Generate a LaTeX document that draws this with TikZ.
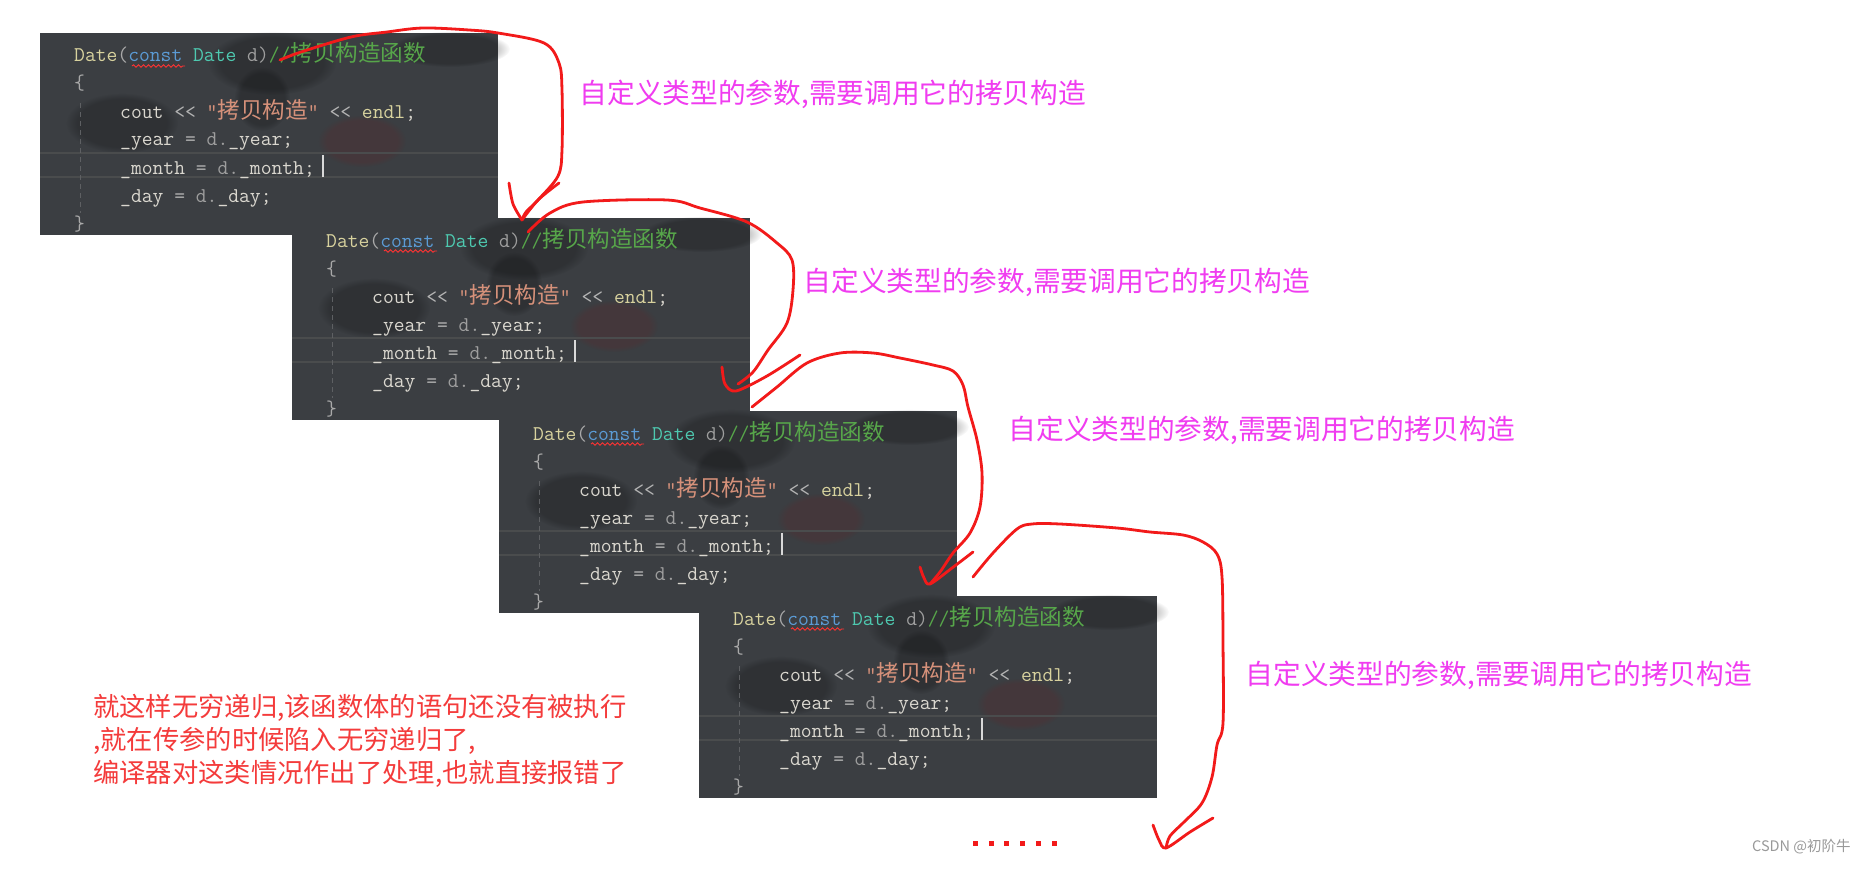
\documentclass[tikz,border=0pt]{standalone}
\usepackage{fontspec}
\newfontfamily\cjk{Noto Sans CJK SC}
\newfontfamily\cjkc{Noto Sans CJK SC}[Scale=1.076]
\usetikzlibrary{decorations.pathmorphing,fadings}
\definecolor{blkbg}{HTML}{3B3E42}
\definecolor{cfn}{HTML}{D8D29E}
\definecolor{cpun}{HTML}{A9A9A9}
\definecolor{ckw}{HTML}{5B9BD5}
\definecolor{cty}{HTML}{4EC9B0}
\definecolor{cpar}{HTML}{9E9E9E}
\definecolor{ccm}{HTML}{57A64A}
\definecolor{cstr}{HTML}{D6917A}
\definecolor{cid}{HTML}{DAD7CF}
\definecolor{cop}{HTML}{B4B4B4}
\definecolor{penc}{HTML}{F21A1A}
\definecolor{magc}{HTML}{F03CF0}
\definecolor{redtxt}{HTML}{F43B3B}
\definecolor{hlc}{HTML}{4A4C4D}
\definecolor{guidec}{HTML}{5E6063}
\newcommand\codeblk[3]{%
  \node[blk] (#1) at (#2,#3) {};
  \begin{scope}[shift={(#1.north west)}]
    \fill[blob] (232,30) ellipse [x radius=64, y radius=32];
    \fill[blob] (222,66) ellipse [x radius=28, y radius=32];
    \fill[blob] (82,90) ellipse [x radius=56, y radius=30];
    \fill[blob] (410,16) ellipse [x radius=60, y radius=18];
    \fill[redglow] (322,108) ellipse [x radius=44, y radius=26];
    \draw[hlline] (0,120) -- (458,120) (0,144) -- (458,144);
    \draw[guide] (40,70) -- (40,180);
    \draw[cursorl] (283,122) -- (283,144);
    \draw[wavy] (92,33) -- (145,33);
    \node[codeln] (#1-1) at (34,29) {\textcolor{cfn}{Date}\textcolor{cpun}{(}\textcolor{ckw}{const} \textcolor{cty}{Date} \textcolor{cpar}{d)}\textcolor{ccm}{//{\cjkc 拷贝构造函数}}};
    \node[codeln] (#1-2) at (34,57) {\textcolor{cpun}{\{}};
    \node[codeln] (#1-3) at (80,85) {\textcolor{cid}{cout} \textcolor{cop}{<{}<} \textcolor{cstr}{"{\cjkc 拷贝构造}"} \textcolor{cop}{<{}<} \textcolor{cfn}{endl}\textcolor{cid}{;}};
    \node[codeln] (#1-4) at (80,113) {\textcolor{cid}{\_year} \textcolor{cop}{=} \textcolor{cpar}{d.}\textcolor{cid}{\_year;}};
    \node[codeln] (#1-5) at (80,141) {\textcolor{cid}{\_month} \textcolor{cop}{=} \textcolor{cpar}{d.}\textcolor{cid}{\_month;}};
    \node[codeln] (#1-6) at (80,169) {\textcolor{cid}{\_day} \textcolor{cop}{=} \textcolor{cpar}{d.}\textcolor{cid}{\_day;}};
    \node[codeln] (#1-7) at (34,197) {\textcolor{cpun}{\}}};
  \end{scope}}
\begin{document}
\begin{tikzpicture}[x=1pt,y=-1pt,
  blk/.style={rectangle,fill=blkbg,draw=none,inner sep=0pt,anchor=north west,
    minimum width=458pt,minimum height=202pt},
  blob/.style={fill=black,opacity=0.2,path fading=circle with fuzzy edge 20 percent},
  redglow/.style={fill=red!60!black,opacity=0.1,path fading=circle with fuzzy edge 20 percent},
  hlline/.style={draw=hlc,line width=1.4pt},
  guide/.style={draw=guidec,line width=1pt,dash pattern=on 5pt off 4pt},
  cursorl/.style={draw=white!85!black,line width=1.5pt},
  wavy/.style={draw=red!80!white,line width=0.9pt,decorate,
    decoration={snake,amplitude=1.2pt,segment length=5pt}},
  codeln/.style={anchor=base west,inner sep=0pt,font=\ttfamily\fontsize{21}{25}\selectfont},
  pen/.style={draw=penc,line width=2.8pt,line cap=round,line join=round},
  anno/.style={anchor=base west,inner sep=0pt,text=magc,font=\cjk\fontsize{27.7}{30}\selectfont},
  note/.style={anchor=base west,inner sep=0pt,text=redtxt,font=\cjk\fontsize{26.3}{30}\selectfont}
]
\fill[white] (0,0) rectangle (1867,872);
\useasboundingbox (0,0) rectangle (1867,872);

\codeblk{b1}{40}{33}
\codeblk{b2}{292}{218}
\codeblk{b3}{499}{411}
\codeblk{b4}{699}{596}

% annotations
\node[anno] (m1) at (579.5,104) {自定义类型的参数,需要调用它的拷贝构造};
\node[anno] (m2) at (803.5,291) {自定义类型的参数,需要调用它的拷贝构造};
\node[anno] (m3) at (1008.5,439) {自定义类型的参数,需要调用它的拷贝构造};
\node[anno] (m4) at (1245.5,684) {自定义类型的参数,需要调用它的拷贝构造};

\node[note] (r1) at (93,716) {就这样无穷递归,该函数体的语句还没有被执行};
\node[note] (r2) at (93,749) {,就在传参的时候陷入无穷递归了,};
\node[note] (r3) at (93,782) {编译器对这类情况作出了处理,也就直接报错了};

\node[anchor=base west,inner sep=0pt,text=black!40,font=\cjk\fontsize{14.5}{16}\selectfont] (wm) at (1752,851) {CSDN @初阶牛};

% dots
\foreach \i in {0,...,5} \fill[penc] ({973+15.7*\i},841) rectangle ++(5,5);

% arrow coordinates
\coordinate (s1) at (280,60);  \coordinate (t1) at (522,220);
\coordinate (s2) at (528,232); \coordinate (t2) at (736,391);
\coordinate (s3) at (752,407); \coordinate (t3) at (930,584);
\coordinate (s4) at (973,577); \coordinate (t4) at (1166,848);

% arrow 1
\draw[pen] plot[smooth,tension=0.55] coordinates {(s1) (301,52) (351,37) (387,32) (423,28) (469,30) (498,33) (544,43) (559,63) (562,90) (562,150) (558,176) (538,200) (526,212) (t1)};
\draw[pen] plot[smooth,tension=0.5] coordinates {(509,183) (513,204) (t1)};
\draw[pen] plot[smooth,tension=0.5] coordinates {(t1) (538,200) (559,183)};

% arrow 2
\draw[pen] plot[smooth,tension=0.55] coordinates {(s2) (550,213) (583,202) (667,200) (700,208) (747,222) (777,243) (792,260) (793,290) (787,323) (768,350) (753,372) (738,384)};
\draw[pen] plot[smooth,tension=0.5] coordinates {(722,367) (725,384) (t2) (767,376) (800,355)};

% arrow 3
\draw[pen] plot[smooth,tension=0.55] coordinates {(s3) (777,387) (807,363) (840,353) (873,353) (900,358) (933,365) (953,371) (963,385) (968,407) (977,440) (982,473) (980,507) (970,533) (953,553) (940,572) (t3)};
\draw[pen] plot[smooth,tension=0.5] coordinates {(920,567) (924,578) (t3) (952,568) (973,552)};

% arrow 4
\draw[pen] plot[smooth,tension=0.55] coordinates {(s4) (993,553) (1017,529) (1032,524) (1060,524) (1117,528) (1150,532) (1183,535) (1203,542) (1217,554) (1222,577) (1223,643) (1223,723) (1217,745) (1212,777) (1202,803) (1184,822) (1170,836) (t4)};
\draw[pen] plot[smooth,tension=0.5] coordinates {(1153,825) (1159,840) (t4) (1190,832) (1213,818)};
\end{tikzpicture}
\end{document}
